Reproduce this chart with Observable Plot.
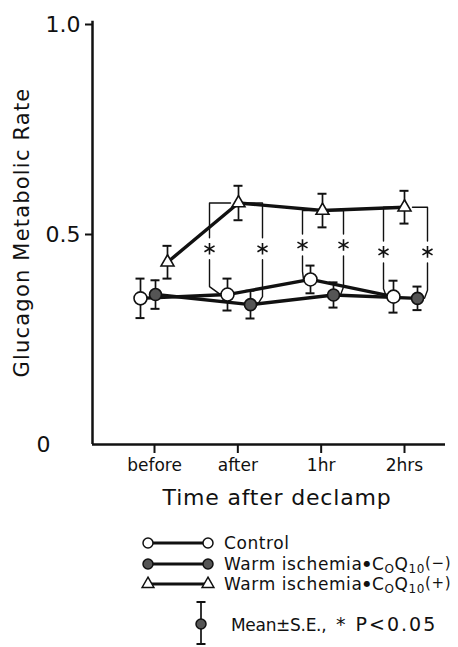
<!DOCTYPE html>
<html><head><meta charset="utf-8">
<script src="https://cdn.jsdelivr.net/npm/d3@7"></script>
<script src="https://cdn.jsdelivr.net/npm/@observablehq/plot@0.6"></script>
<style>
body{margin:0;background:#fff;font-family:"DejaVu Sans",sans-serif;}
#wrap{position:relative;width:458px;height:647px;overflow:hidden;background:#fff;}
#chart svg{display:block;}
#legend{position:absolute;left:0;top:520px;}
</style></head><body>
<div id="wrap"><div id="chart"></div><svg id="legend" width="458" height="127"></svg></div>
<script>
// ---- data ----
const times = ["before", "after", "1hr", "2hrs"];
const controlMean = [0.348, 0.357, 0.393, 0.352];
const controlSE   = [0.047, 0.038, 0.033, 0.038];
const coqMinusMean = [0.357, 0.333, 0.356, 0.348];
const coqMinusSE   = [0.034, 0.033, 0.030, 0.028];
const coqPlusMean = [0.434, 0.575, 0.557, 0.565];
const coqPlusSE   = [0.039, 0.041, 0.040, 0.039];
const significantPairs = [["after","control"],["after","minus"],["1hr","control"],["1hr","minus"],["2hrs","control"],["2hrs","minus"]];
const yTicks = [0.5, 1.0];
const yTickLabels = ["0.5", "1.0"];
const yZeroLabel = "0";
const yTitle = "Glucagon Metabolic Rate";
const xTitle = "Time after declamp";

// ---- layout (horizontal dodge of series within each time, in category units) ----
const controlDX = [-0.168, -0.124, -0.128, -0.132];
const minusDX   = [0.012, 0.152, 0.148, 0.156];
const plusDX    = [0.156, 0.008, 0.016, 0.0];
const bracketLeftDX  = [0, -0.34, -0.224, -0.252];
const bracketRightDX = [0, 0.296, 0.268, 0.276];

const W = 458, H = 520, mL = 92, mR = 13, mT = 24, mB = 76;
const xDomain = [-0.744, 3.492];
const U = (xDomain[1]-xDomain[0]) / (W - mL - mR); // units per px (x)
const V = 1 / (H - mT - mB);                         // units per px (y)

const seriesDefs = [
  {key:"control", mean:controlMean, se:controlSE, dx:controlDX},
  {key:"minus", mean:coqMinusMean, se:coqMinusSE, dx:minusDX},
  {key:"plus", mean:coqPlusMean, se:coqPlusSE, dx:plusDX}
];
const rows = [];
seriesDefs.forEach(s => times.forEach((t, i) => rows.push({series:s.key, t, i, x:i + s.dx[i], mean:s.mean[i], se:s.se[i]})));
const get = (k, i) => rows.find(r => r.series === k && r.i === i);

const bracketPts = [], asterisks = [];
significantPairs.forEach(([t, vs], n) => {
  const i = times.indexOf(t);
  const tri = get("plus", i), c = get(vs, i), ctrl = get("control", i);
  const side = vs === "control" ? -1 : 1;
  const bx = i + (side < 0 ? bracketLeftDX[i] : bracketRightDX[i]);
  const ast = (tri.mean + ctrl.mean) / 2;
  const gap = 11 * V;
  asterisks.push({x:bx, y:ast});
  const a = "a"+n, b = "b"+n;
  bracketPts.push({id:a, x:tri.x + side*8*U, y:tri.mean}, {id:a, x:bx, y:tri.mean}, {id:a, x:bx, y:ast + gap});
  bracketPts.push({id:b, x:bx, y:ast - gap}, {id:b, x:bx, y:c.mean + 8*V}, {id:b, x:c.x + side*7*U, y:c.mean});
});

const capU = 4.5 * U;
const chart = Plot.plot({
  width: W, height: H, marginLeft: mL, marginRight: mR, marginTop: mT, marginBottom: mB,
  style: {fontFamily: "DejaVu Sans, sans-serif", color: "#111", background: "#fff"},
  x: {domain: xDomain},
  y: {domain: [0, 1]},
  marks: [
    Plot.axisY({ticks: yTicks, tickFormat: (d) => yTickLabels[yTicks.indexOf(d)], tickSize: 7, tickPadding: 5, fontSize: 22, strokeWidth: 2, label: null}),
    Plot.axisX({ticks: [0,1,2,3], tickFormat: (d) => times[d], tickSize: 9, tickPadding: 5, fontSize: 17, strokeWidth: 2, label: null}),
    Plot.ruleX([xDomain[0]], {y1: 0, y2: 1.008, strokeWidth: 2.5, stroke: "#111"}),
    Plot.ruleY([0], {strokeWidth: 2.5, stroke: "#111"}),
    Plot.text([yZeroLabel], {x: xDomain[0], y: 0, dx: -56, textAnchor: "start", fontSize: 22, fill: "#111"}),
    Plot.text([yTitle], {frameAnchor: "left", rotate: -90, dx: -70, dy: -2, textAnchor: "middle", lineAnchor: "middle", fontSize: 21, fill: "#111"}),
    Plot.text([xTitle], {frameAnchor: "bottom", dx: 8, dy: 53, textAnchor: "middle", lineAnchor: "middle", fontSize: 22, fill: "#111"}),
    Plot.line(bracketPts, {x: "x", y: "y", z: "id", stroke: "#111", strokeWidth: 1.4}),
    Plot.dot(asterisks, {x: "x", y: "y", symbol: "asterisk", r: 5.5, stroke: "#111", strokeWidth: 1.6}),
    Plot.ruleX(rows, {x: "x", y1: d => d.mean - d.se, y2: d => d.mean + d.se, stroke: "#111", strokeWidth: 1.7}),
    Plot.ruleY(rows, {y: d => d.mean + d.se, x1: d => d.x - capU, x2: d => d.x + capU, stroke: "#111", strokeWidth: 2}),
    Plot.ruleY(rows, {y: d => d.mean - d.se, x1: d => d.x - capU, x2: d => d.x + capU, stroke: "#111", strokeWidth: 2}),
    Plot.line(rows, {x: "x", y: "mean", z: "series", stroke: "#111", strokeWidth: 3.4}),
    Plot.dot(rows.filter(d => d.series === "control"), {x: "x", y: "mean", r: 6.5, fill: "#fff", stroke: "#111", strokeWidth: 1.6}),
    Plot.dot(rows.filter(d => d.series === "minus"), {x: "x", y: "mean", r: 6, fill: "#555", stroke: "#111", strokeWidth: 1.6}),
    Plot.dot(rows.filter(d => d.series === "plus"), {x: "x", y: "mean", symbol: "triangle", r: 4.8, fill: "#fff", stroke: "#111", strokeWidth: 1.6})
  ]
});
document.getElementById("chart").appendChild(chart);
d3.select(chart).selectAll("text").filter(function(){ return this.textContent === yTitle; }).style("letter-spacing", "1.2px");
d3.select(chart).selectAll("text").filter(function(){ return this.textContent === xTitle; }).style("letter-spacing", "0.8px");

// ---- legend ----
const legendItems = [
  {key:"control", label:"Control"},
  {key:"minus", label:"(\u2212)"},
  {key:"plus", label:"(+)"}
];
const lg = d3.select("#legend");
const rowY = [23, 44, 64];
const x0 = 148, x1 = 208;
legendItems.forEach((it, k) => {
  const y = rowY[k];
  lg.append("line").attr("x1", x0).attr("x2", x1).attr("y1", y).attr("y2", y).attr("stroke", "#111").attr("stroke-width", 3);
  [x0, x1].forEach(x => {
    if (it.key === "plus") {
      lg.append("path").attr("d", d3.symbol(d3.symbolTriangle, 60)()).attr("transform", `translate(${x},${y})`).attr("fill", "#fff").attr("stroke", "#111").attr("stroke-width", 1.5);
    } else {
      lg.append("circle").attr("cx", x).attr("cy", y).attr("r", 5).attr("fill", it.key === "control" ? "#fff" : "#555").attr("stroke", "#111").attr("stroke-width", 1.5);
    }
  });
  const t = lg.append("text").attr("x", 224).attr("y", y + 6).style("font-size", "17px").attr("fill", "#111").style("letter-spacing", "0.6px");
  if (it.key === "control") t.text(it.label);
  else {
    t.append("tspan").text("Warm ischemia");
    t.append("tspan").style("font-size", "8px").attr("dy", -4).attr("dx", 1).text("\u25CF");
    t.append("tspan").attr("dy", 4).attr("dx", 1).text("C");
    t.append("tspan").style("font-size", "12px").attr("dy", 3).text("O");
    t.append("tspan").attr("dy", -3).text("Q");
    t.append("tspan").style("font-size", "12px").attr("dy", 3).text("10");
    t.append("tspan").style("font-size", "15px").attr("dy", -5).text(it.label);
  }
});
// mean ± SE icon
const ex = 201;
lg.append("line").attr("x1", ex).attr("x2", ex).attr("y1", 82).attr("y2", 124).attr("stroke", "#111").attr("stroke-width", 1.7);
lg.append("line").attr("x1", ex-4.5).attr("x2", ex+4.5).attr("y1", 82).attr("y2", 82).attr("stroke", "#111").attr("stroke-width", 2);
lg.append("line").attr("x1", ex-4.5).attr("x2", ex+4.5).attr("y1", 124).attr("y2", 124).attr("stroke", "#111").attr("stroke-width", 2);
lg.append("circle").attr("cx", ex).attr("cy", 104).attr("r", 5).attr("fill", "#555").attr("stroke", "#111").attr("stroke-width", 1.5);
lg.append("text").attr("x", 231).attr("y", 111).style("font-size", "17px").style("letter-spacing", "-0.3px").attr("fill", "#111").text("Mean\u00B1S.E.,");
lg.append("text").attr("x", 336).attr("y", 111).style("font-size", "19px").style("letter-spacing", "2px").attr("fill", "#111").text("* P<0.05");
</script></body></html>
